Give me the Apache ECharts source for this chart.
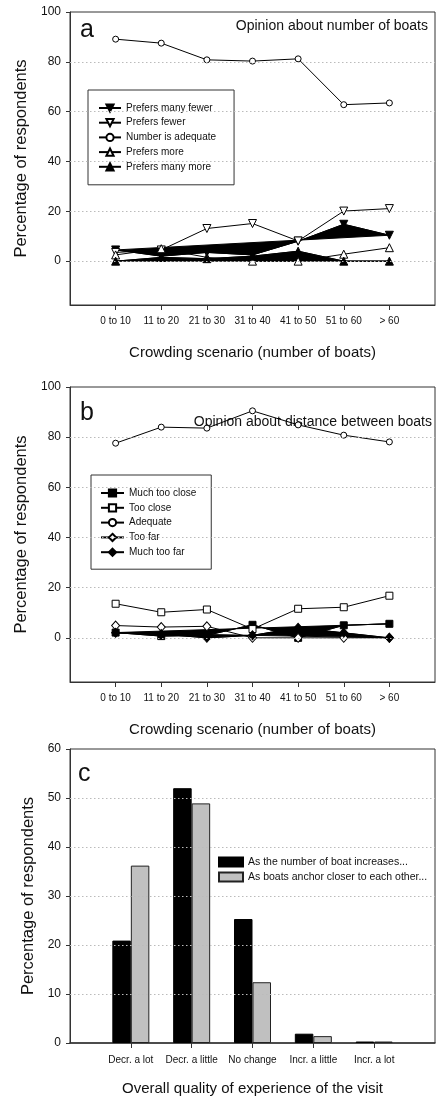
<!DOCTYPE html>
<html>
<head>
<meta charset="utf-8">
<script src="https://cdn.jsdelivr.net/npm/echarts@6/dist/echarts.min.js"></script>
<style>
html,body{margin:0;padding:0;background:#fff;}
#chart{width:437px;height:1098px;}
</style>
</head>
<body>
<div id="chart"></div>
<script>
// ---- data ----
const scenarios = ['0 to 10','11 to 20','21 to 30','31 to 40','41 to 50','51 to 60','> 60'];
const pctTicks = [0, 20, 40, 60, 80, 100];
const pctGrid = [0, 20, 40, 60, 80];

// Panel a: opinion about number of boats
const namesA = ['Prefers many fewer','Prefers fewer','Number is adequate','Prefers more','Prefers many more'];
const manyFewer = [4.5, 2.0, 3.5, 2.5, 8.0, 14.8, 10.4];
const fewer     = [3.5, 4.5, 13.1, 15.1, 8.1, 20.1, 21.1];
const adequateA = [89.1, 87.5, 80.8, 80.3, 81.2, 62.8, 63.5];
const more      = [2.5, 5.0, 1.5, 0.0, 0.0, 2.8, 5.4];
const manyMore  = [0.0, 1.5, 1.0, 2.0, 4.0, 0.0, 0.0];

// Panel b: opinion about distance between boats
const namesB = ['Much too close','Too close','Adequate','Too far','Much too far'];
const muchTooClose = [2.1, 0.7, 1.0, 5.2, 0.0, 5.0, 5.6];
const tooClose     = [13.6, 10.2, 11.3, 3.5, 11.6, 12.2, 16.8];
const adequateB    = [77.6, 84.0, 83.6, 90.5, 84.9, 80.8, 78.1];
const tooFar       = [4.9, 4.3, 4.6, 0.0, 0.0, 0.0, 0.0];
const muchTooFar   = [2.0, 1.5, 0.0, 1.0, 4.0, 2.0, 0.0];

// Panel c: overall quality of experience
const qualityCats = ['Decr. a lot','Decr. a little','No change','Incr. a little','Incr. a lot'];
const namesC = ['As the number of boat increases...','As boats anchor closer to each other...'];
const boatIncrease = [20.9, 52.0, 25.3, 1.9, 0.3];
const anchorCloser = [36.2, 48.9, 12.4, 1.4, 0.3];
const cGrid = [10, 20, 30, 40, 50];

// ---- helpers ----
const FONT = '"Liberation Sans", Arial, sans-serif';
const TXT = '#111';
const AX = '#333';
const toPts = arr => arr.map((v, i) => [i + 1, v]);

function lineSeries(name, arr, gi, symbol, filled, size, rotate) {
  return {
    type: 'line', name, data: toPts(arr), xAxisIndex: gi, yAxisIndex: gi,
    symbol, symbolSize: size, symbolRotate: rotate || 0, showSymbol: true,
    lineStyle: { color: '#000', width: 1 },
    itemStyle: { color: filled ? '#000' : '#fff', borderColor: '#000', borderWidth: 1 },
    z: 4, animation: false
  };
}
function polySeries(arr, gi) {
  return {
    type: 'custom', xAxisIndex: gi, yAxisIndex: gi, silent: true, z: 3, animation: false,
    data: toPts(arr),
    renderItem: (params, api) => {
      if (params.dataIndex !== 0) return null;
      const pts = arr.map((v, i) => api.coord([i + 1, v]));
      return { type: 'polygon', shape: { points: pts }, style: { fill: '#000', stroke: '#000', lineWidth: 1 } };
    }
  };
}
function gridLines(vals) {
  return {
    silent: true, symbol: 'none', label: { show: false },
    lineStyle: { color: '#bbb', type: [1.5, 2.5], width: 1 },
    data: vals.map(v => ({ yAxis: v }))
  };
}
function xAxisScen(gi) {
  return {
    type: 'value', gridIndex: gi, min: 0, max: 8,
    name: 'Crowding scenario (number of boats)', nameLocation: 'middle', nameGap: 40,
    nameTextStyle: { fontSize: 15, color: TXT, fontFamily: FONT },
    axisLine: { show: true, onZero: false, lineStyle: { color: AX, width: 1 } },
    axisTick: { show: true, length: 5, customValues: [1,2,3,4,5,6,7], lineStyle: { color: AX } },
    axisLabel: { customValues: [1,2,3,4,5,6,7], formatter: v => scenarios[v - 1] || '',
      fontSize: 10, color: TXT, margin: 11, fontFamily: FONT },
    splitLine: { show: false }
  };
}
function yAxisPct(gi, nameGap) {
  return {
    type: 'value', gridIndex: gi, min: -17.6, max: 100,
    name: 'Percentage of respondents', nameLocation: 'middle', nameGap: nameGap,
    nameTextStyle: { fontSize: 16.5, color: TXT, fontFamily: FONT },
    axisLine: { show: true, onZero: false, lineStyle: { color: AX, width: 1 } },
    axisTick: { show: true, length: 4, customValues: pctTicks, lineStyle: { color: AX } },
    axisLabel: { customValues: pctTicks, fontSize: 12, color: TXT, margin: 9, fontFamily: FONT },
    splitLine: { show: false }
  };
}

const option = {
  animation: false,
  backgroundColor: '#fff',
  textStyle: { fontFamily: FONT },
  grid: [
    { left: 70, top: 12, width: 365, height: 293, show: true, borderColor: AX, borderWidth: 1, backgroundColor: 'transparent' },
    { left: 70, top: 387, width: 365, height: 295, show: true, borderColor: AX, borderWidth: 1, backgroundColor: 'transparent' },
    { left: 70, top: 749, width: 365, height: 294, show: true, borderColor: AX, borderWidth: 1, backgroundColor: 'transparent' }
  ],
  xAxis: [
    xAxisScen(0),
    xAxisScen(1),
    {
      type: 'value', gridIndex: 2, min: 0, max: 6,
      name: 'Overall quality of experience of the visit', nameLocation: 'middle', nameGap: 38,
      nameTextStyle: { fontSize: 15, color: TXT, fontFamily: FONT },
      axisLine: { show: true, onZero: false, lineStyle: { color: AX, width: 1.5 } },
      axisTick: { show: true, length: 5, customValues: [1,2,3,4,5], lineStyle: { color: AX } },
      axisLabel: { customValues: [1,2,3,4,5], formatter: v => qualityCats[v - 1] || '',
        fontSize: 10, color: TXT, margin: 12, fontFamily: FONT },
      splitLine: { show: false }
    }
  ],
  yAxis: [
    yAxisPct(0, 33),
    yAxisPct(1, 33),
    {
      type: 'value', gridIndex: 2, min: 0, max: 60, interval: 10,
      name: 'Percentage of respondents', nameLocation: 'middle', nameGap: 31,
      nameTextStyle: { fontSize: 16.5, color: TXT, fontFamily: FONT },
      axisLine: { show: true, onZero: false, lineStyle: { color: AX, width: 1 } },
      axisTick: { show: true, length: 4, lineStyle: { color: AX } },
      axisLabel: { fontSize: 12, color: TXT, margin: 9, fontFamily: FONT },
      splitLine: { show: false }
    }
  ],
  legend: [
    {
      data: namesA, orient: 'vertical', left: 88, top: 90,
      padding: [12, 18, 12, 10], itemGap: 2.7, itemWidth: 22, itemHeight: 9,
      borderColor: '#333', borderWidth: 1, backgroundColor: '#fff',
      textStyle: { fontSize: 10, color: TXT, lineHeight: 12, fontFamily: FONT },
      selectedMode: false
    },
    {
      data: namesB, orient: 'vertical', left: 91, top: 475,
      padding: [12, 15, 11, 9], itemGap: 2.8, itemWidth: 23, itemHeight: 9,
      borderColor: '#333', borderWidth: 1, backgroundColor: '#fff',
      textStyle: { fontSize: 10, color: TXT, lineHeight: 12, fontFamily: FONT },
      selectedMode: false
    },
    {
      data: namesC, orient: 'vertical', left: 218, top: 855.5,
      padding: 0, itemGap: 2, itemWidth: 24, itemHeight: 9, icon: 'rect',
      textStyle: { fontSize: 10.5, color: TXT, lineHeight: 13, fontFamily: FONT },
      selectedMode: false
    }
  ],
  series: [
    // panel a
    polySeries(manyFewer, 0),
    polySeries(manyMore, 0),
    lineSeries(namesA[0], manyFewer, 0, 'triangle', true, 8, 180),
    lineSeries(namesA[1], fewer, 0, 'triangle', false, 8, 180),
    Object.assign(lineSeries(namesA[2], adequateA, 0, 'circle', false, 6), { markLine: gridLines(pctGrid) }),
    lineSeries(namesA[3], more, 0, 'triangle', false, 8),
    lineSeries(namesA[4], manyMore, 0, 'triangle', true, 8),
    // panel b
    polySeries(muchTooClose, 1),
    polySeries(muchTooFar, 1),
    lineSeries(namesB[0], muchTooClose, 1, 'rect', true, 7),
    lineSeries(namesB[1], tooClose, 1, 'rect', false, 7),
    Object.assign(lineSeries(namesB[2], adequateB, 1, 'circle', false, 6), { markLine: gridLines(pctGrid) }),
    lineSeries(namesB[3], tooFar, 1, 'diamond', false, [8, 9]),
    lineSeries(namesB[4], muchTooFar, 1, 'diamond', true, [8, 9]),
    // panel c
    {
      type: 'bar', name: namesC[0], xAxisIndex: 2, yAxisIndex: 2,
      data: toPts(boatIncrease), barWidth: 18.5, barGap: '0%',
      itemStyle: { color: '#000', borderColor: '#000', borderWidth: 1 },
      markLine: gridLines(cGrid), z: 3
    },
    {
      type: 'bar', name: namesC[1], xAxisIndex: 2, yAxisIndex: 2,
      data: toPts(anchorCloser), barWidth: 18.5, barGap: '0%',
      itemStyle: { color: '#c0c0c0', borderColor: '#222', borderWidth: 1 }, z: 3
    }
  ],
  graphic: [
    { type: 'text', left: 80, top: 18, style: { text: 'a', font: '25px ' + FONT, fill: TXT } },
    { type: 'text', right: 9, top: 19, style: { text: 'Opinion about number of boats', font: '14px ' + FONT, fill: TXT } },
    { type: 'text', left: 80, top: 401, style: { text: 'b', font: '25px ' + FONT, fill: TXT } },
    { type: 'text', right: 5, top: 415, style: { text: 'Opinion about distance between boats', font: '14px ' + FONT, fill: TXT } },
    { type: 'text', left: 78, top: 762, style: { text: 'c', font: '25px ' + FONT, fill: TXT } }
  ]
};

const chart = echarts.init(document.getElementById('chart'), null, { renderer: 'canvas' });
chart.setOption(option);
</script>
</body>
</html>
